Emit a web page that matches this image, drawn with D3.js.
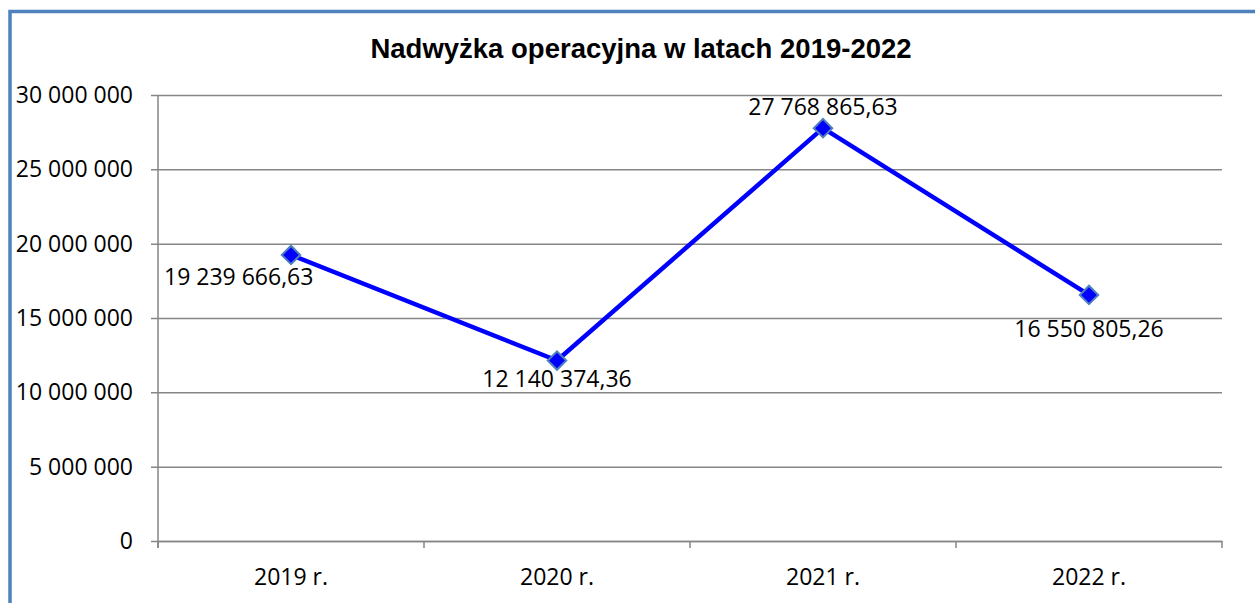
<!DOCTYPE html>
<html>
<head>
<meta charset="utf-8">
<script src="https://cdn.jsdelivr.net/npm/d3@7"></script>
<style>
  body { margin: 0; background: #fff; }
  svg { display: block; }
</style>
</head>
<body>
<div id="chart"></div>
<script>
var categories = ["2019 r.", "2020 r.", "2021 r.", "2022 r."];
var values = [19239666.63, 12140374.36, 27768865.63, 16550805.26];
var valueLabels = ["19 239 666,63", "12 140 374,36", "27 768 865,63", "16 550 805,26"];
var yTicks = [0, 5000000, 10000000, 15000000, 20000000, 25000000, 30000000];
var title = "Nadwyżka operacyjna w latach 2019-2022";

var W = 1255, H = 603,
    margin = {left: 158, right: 33, top: 95, bottom: 62},
    width = W - margin.left - margin.right,
    height = H - margin.top - margin.bottom;

var FONT = "Open Sans, sans-serif", FS = "23px";

var svg = d3.select("#chart").append("svg")
    .attr("width", W).attr("height", H);

// outer frame (right/bottom edges fall outside the window)
svg.append("rect")
    .attr("x", 10).attr("y", 11.5)
    .attr("width", W + 20).attr("height", H + 20)
    .attr("fill", "none")
    .attr("stroke", "#4f81bd")
    .attr("stroke-width", 3.5);

svg.append("text")
    .attr("x", 641).attr("y", 58)
    .attr("text-anchor", "middle")
    .style("font-family", "Liberation Sans, Arial, sans-serif")
    .style("font-weight", "bold")
    .style("font-size", "27.5px")
    .text(title);

var x = d3.scaleBand().domain(categories).range([0, width]);
var y = d3.scaleLinear().domain([0, 30000000]).range([height, 0]);

var g = svg.append("g")
    .attr("transform", "translate(" + margin.left + "," + margin.top + ")");

var fmt = function (d) { return d3.format(",")(d).replace(/,/g, " "); };

var yAxis = g.append("g")
    .call(d3.axisLeft(y).tickValues(yTicks).tickSize(-width - 7).tickFormat(fmt))
    .attr("transform", "translate(-7,0)");
yAxis.select(".domain").remove();
yAxis.selectAll(".tick line").attr("stroke", "#868686").attr("stroke-width", 1.5);
yAxis.selectAll(".tick text")
    .attr("x", -18)
    .style("font-family", FONT)
    .style("font-size", FS)
    .attr("fill", "#000");

// y axis line
g.append("line")
    .attr("x1", 0).attr("x2", 0).attr("y1", 0).attr("y2", height + 7)
    .attr("stroke", "#868686").attr("stroke-width", 1.5);

var xAxis = g.append("g")
    .attr("transform", "translate(0," + height + ")")
    .call(d3.axisBottom(x).tickSize(0).tickPadding(0));
xAxis.select(".domain").attr("stroke", "#868686").attr("stroke-width", 1.5);
xAxis.selectAll(".tick text")
    .attr("y", 44)
    .attr("dy", null)
    .style("font-family", FONT)
    .style("font-size", FS)
    .attr("fill", "#000");

// category boundary ticks
var bounds = categories.map(function (c) { return x(c); }).concat([width]);
g.selectAll(".btick").data(bounds).enter().append("line")
    .attr("x1", function (d) { return d; }).attr("x2", function (d) { return d; })
    .attr("y1", height).attr("y2", height + 7)
    .attr("stroke", "#868686").attr("stroke-width", 1.5);

var cx = function (i) { return x(categories[i]) + x.bandwidth() / 2; };

var line = d3.line()
    .x(function (d, i) { return cx(i); })
    .y(function (d) { return y(d); });

g.append("path")
    .datum(values)
    .attr("d", line)
    .attr("fill", "none")
    .attr("stroke", "#0000ff")
    .attr("stroke-width", 4.5)
    .attr("stroke-linejoin", "round");

g.selectAll(".pt").data(values).enter().append("path")
    .attr("d", d3.symbol().type(d3.symbolSquare).size(170))
    .attr("transform", function (d, i) { return "translate(" + cx(i) + "," + y(d) + ") rotate(45)"; })
    .attr("fill", "#0000ff")
    .attr("stroke", "#4f81bd")
    .attr("stroke-width", 2);

// data labels: placement per point (left-below, below, above, below)
var labelPos = [
  {dx: -127, dy: 30, anchor: "start"},
  {dx: 0, dy: 26, anchor: "middle"},
  {dx: 0, dy: -13, anchor: "middle"},
  {dx: 0, dy: 42, anchor: "middle"}
];
g.selectAll(".lbl").data(values).enter().append("text")
    .attr("x", function (d, i) { return cx(i) + labelPos[i].dx; })
    .attr("y", function (d, i) { return y(d) + labelPos[i].dy; })
    .attr("text-anchor", function (d, i) { return labelPos[i].anchor; })
    .style("font-family", FONT)
    .style("font-size", FS)
    .attr("fill", "#000")
    .text(function (d, i) { return valueLabels[i]; });
</script>
</body>
</html>
